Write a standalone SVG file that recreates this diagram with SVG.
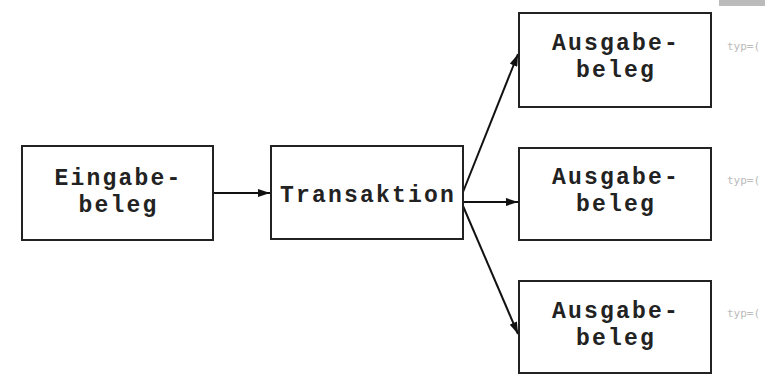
<svg xmlns="http://www.w3.org/2000/svg" width="765" height="374" viewBox="0 0 765 374">
<style>
.box{fill:#fff;stroke:#222;stroke-width:2}
.lbl{font-family:"Liberation Mono","Courier New",monospace;font-weight:bold;font-size:23px;letter-spacing:2.2px;fill:#222;text-anchor:middle}
.typ{font-family:"DejaVu Sans Mono",monospace;font-size:11px;fill:#bbb}
.edge{stroke:#111;stroke-width:2;fill:none;marker-end:url(#ah)}
</style>
<defs>
<marker id="ah" viewBox="0 0 12 8" refX="12" refY="4" markerWidth="13" markerHeight="8" markerUnits="userSpaceOnUse" orient="auto">
<path d="M0,0 L12,4 L0,8 z" fill="#111"/>
</marker>
</defs>
<rect x="719" y="0" width="46" height="6" fill="#bbb"/>
<g id="connectors">
<line class="edge" x1="213" y1="193" x2="270" y2="193"/>
<line class="edge" x1="463" y1="192" x2="518" y2="54"/>
<line class="edge" x1="463" y1="202" x2="518" y2="202"/>
<line class="edge" x1="463" y1="206" x2="518" y2="334"/>
</g>
<g id="eingabe">
<rect class="box" x="22" y="146" width="191" height="94"/>
<text class="lbl" x="118.5" y="185">Eingabe-</text>
<text class="lbl" x="118.5" y="212">beleg</text>
</g>
<g id="transaktion">
<rect class="box" x="271" y="146" width="192" height="93"/>
<text class="lbl" x="368" y="202">Transaktion</text>
</g>
<g id="ausgabe1">
<rect class="box" x="519" y="13" width="192" height="94"/>
<text class="lbl" x="616" y="50">Ausgabe-</text>
<text class="lbl" x="616" y="77">beleg</text>
</g>
<g id="ausgabe2">
<rect class="box" x="519" y="148" width="192" height="92"/>
<text class="lbl" x="616" y="184">Ausgabe-</text>
<text class="lbl" x="616" y="211">beleg</text>
</g>
<g id="ausgabe3">
<rect class="box" x="519" y="281" width="192" height="92"/>
<text class="lbl" x="616" y="318">Ausgabe-</text>
<text class="lbl" x="616" y="345">beleg</text>
</g>
<text class="typ" x="727" y="50">typ=(</text>
<text class="typ" x="727" y="184">typ=(</text>
<text class="typ" x="727" y="317">typ=(</text>
</svg>
